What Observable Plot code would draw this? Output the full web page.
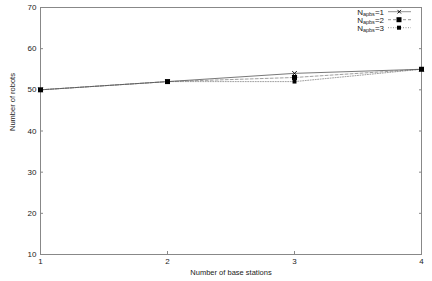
<!DOCTYPE html>
<html><head><meta charset="utf-8">
<script src="https://cdn.jsdelivr.net/npm/d3@7"></script>
<script src="https://cdn.jsdelivr.net/npm/@observablehq/plot@0.6"></script>
<style>
body{margin:0;background:#fff;}
svg{font-family:"Liberation Sans",Arial,sans-serif;}
</style></head>
<body><div id="chart"></div>
<script>
const baseStations = [1, 2, 3, 4];
const series1 = [50, 52, 54, 55]; // N_apbs=1
const series2 = [50, 52, 53, 55]; // N_apbs=2
const series3 = [50, 52, 52, 55]; // N_apbs=3
const seriesNames = ["1", "2", "3"];
const yTicks = [10, 20, 30, 40, 50, 60, 70];
const xTicks = [1, 2, 3, 4];

const rows = [];
[series1, series2, series3].forEach((s, i) => s.forEach((v, j) => rows.push({x: baseStations[j], y: v, s: seriesNames[i]})));
const bySeries = k => rows.filter(r => r.s === k);

const plot = Plot.plot({
  width: 432, height: 281,
  marginLeft: 40, marginTop: 7, marginRight: 11, marginBottom: 27,
  style: {fontFamily: "Liberation Sans, Arial, sans-serif", fontSize: "8px", background: "#fff"},
  x: {domain: [1, 4]},
  y: {domain: [10, 70]},
  marks: [
    Plot.frame({stroke: "#888", strokeWidth: 1}),
    Plot.axisY({ticks: yTicks, tickSize: -3, tickPadding: 7, stroke: "#888", label: null, color: "#222", tickFormat: d3.format("d")}),
    Plot.axisY({ticks: yTicks, anchor: "right", tickSize: -3, tickFormat: () => "", stroke: "#888", label: null}),
    Plot.axisX({ticks: xTicks, tickSize: -3, tickPadding: 7, stroke: "#888", label: null, color: "#222", tickFormat: d3.format("d")}),
    Plot.line(bySeries("3"), {x: "x", y: "y", stroke: "#777", strokeWidth: 0.7, strokeDasharray: "1,1.5"}),
    Plot.line(bySeries("2"), {x: "x", y: "y", stroke: "#777", strokeWidth: 0.7, strokeDasharray: "3,2"}),
    Plot.line(bySeries("1"), {x: "x", y: "y", stroke: "#555", strokeWidth: 0.8}),
    Plot.dot(bySeries("3"), {x: "x", y: "y", symbol: "square", fill: "#000", r: 2.2}),
    Plot.dot(bySeries("2"), {x: "x", y: "y", symbol: "square", fill: "#000", r: 2.8}),
    Plot.dot(bySeries("1"), {x: "x", y: "y", symbol: "times", stroke: "#000", r: 2.2, strokeWidth: 0.9}),
    Plot.text(["Number of robots"], {frameAnchor: "left", dx: -28, rotate: -90, fontSize: 7.5, fill: "#222"}),
    Plot.text(["Number of base stations"], {frameAnchor: "bottom", dy: 20, fontSize: 7.5, fill: "#222"})
  ]
});
document.getElementById("chart").appendChild(plot);

// legend
const svg = d3.select(plot);
const legendRows = [{n: "1", y: 14.5, dash: null, sym: "x"}, {n: "2", y: 22.5, dash: "3,2", sym: "sq"}, {n: "3", y: 30.5, dash: "1,1.5", sym: "sqs"}];
const g = svg.append("g").attr("font-size", 8).attr("fill", "#222");
legendRows.forEach(r => {
  const t = g.append("text").attr("x", 384).attr("y", r.y).attr("text-anchor", "end");
  t.append("tspan").text("N");
  t.append("tspan").attr("font-size", 5.5).attr("dy", 1.5).text("apbs");
  t.append("tspan").attr("dy", -1.5).text("=" + r.n);
  const ly = r.y - 2.8;
  g.append("line").attr("x1", 388).attr("x2", 411).attr("y1", ly).attr("y2", ly)
    .attr("stroke", "#666").attr("stroke-width", 0.7).attr("stroke-dasharray", r.dash);
  if (r.sym === "x") {
    g.append("path").attr("d", `M${397.5},${ly-1.8}L${401},${ly+1.8}M${397.5},${ly+1.8}L${401},${ly-1.8}`).attr("stroke", "#000").attr("stroke-width", 0.9);
  } else {
    const s = r.sym === "sq" ? 5 : 4;
    g.append("rect").attr("x", 399 - s/2).attr("y", ly - s/2).attr("width", s).attr("height", s).attr("fill", "#000");
  }
});
</script></body></html>
